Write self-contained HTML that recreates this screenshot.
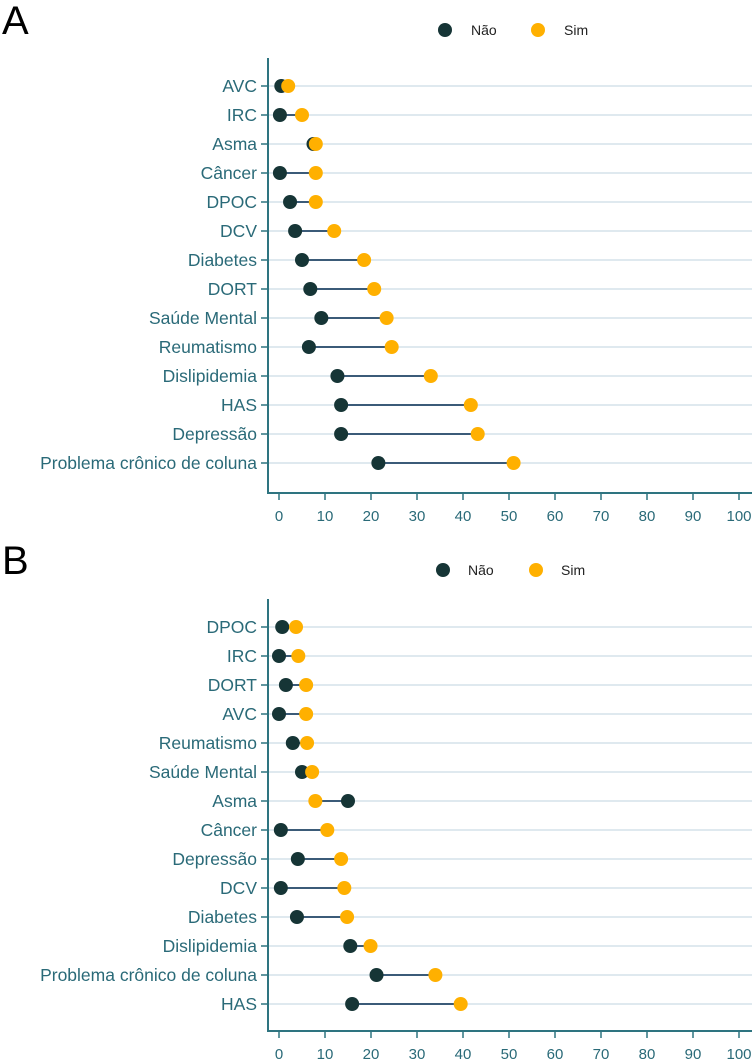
<!DOCTYPE html>
<html><head><meta charset="utf-8"><style>
body{margin:0;background:#fff;}
svg{display:block;font-family:"Liberation Sans",sans-serif;}
</style></head><body>
<svg id="chart" width="752" height="1060" viewBox="0 0 752 1060"></svg>
<script>
const catsA=["AVC","IRC","Asma","Câncer","DPOC","DCV","Diabetes","DORT","Saúde Mental","Reumatismo","Dislipidemia","HAS","Depressão","Problema crônico de coluna"];
const naoA=[0.5,0.2,7.5,0.2,2.4,3.5,5,6.8,9.2,6.5,12.7,13.5,13.5,21.6];
const simA=[2,5,8,8,8,12,18.5,20.7,23.4,24.5,33,41.7,43.2,51];
const catsB=["DPOC","IRC","DORT","AVC","Reumatismo","Saúde Mental","Asma","Câncer","Depressão","DCV","Diabetes","Dislipidemia","Problema crônico de coluna","HAS"];
const naoB=[0.7,0,1.5,0,3,5,15,0.4,4.1,0.4,3.9,15.5,21.2,15.9];
const simB=[3.7,4.2,5.9,5.9,6.1,7.2,7.9,10.5,13.5,14.2,14.8,19.9,34,39.5];
const ticks=[0,10,20,30,40,50,60,70,80,90,100];

const svg=document.getElementById('chart');
const NS="http://www.w3.org/2000/svg";
function mk(tag,attrs,parent){const e=document.createElementNS(NS,tag);for(const k in attrs)e.setAttribute(k,attrs[k]);(parent||svg).appendChild(e);return e;}
const x=v=>279+v*4.6;

function panel(id,letter,letterY,legendY,axisTop,firstRow,baseline,cats,nao,sim){
  const g=mk('g',{});
  
  
  const L=mk('text',{x:2,y:letterY,'font-size':40,fill:'#000'},g);L.textContent=letter;
  
  
  const lg=mk('g',{},g);
  
  
  mk('circle',{cx:445-(id==='b'?2:0),cy:legendY,r:7,fill:'#163536'},lg);
  const t1=mk('text',{x:471-(id==='b'?3:0),y:legendY+5,'font-size':14,fill:'#222'},lg);t1.textContent="Não";
  mk('circle',{cx:538-(id==='b'?2:0),cy:legendY,r:7,fill:'#ffb000'},lg);
  const t2=mk('text',{x:564-(id==='b'?3:0),y:legendY+5,'font-size':14,fill:'#222'},lg);t2.textContent="Sim";
  cats.forEach((c,i)=>{
    const y=firstRow+i*29;
    const gl=mk('line',{x1:268,x2:752,y1:y,y2:y,stroke:'#dfe9ef','stroke-width':2},g);
    
    
    mk('line',{x1:261,x2:268,y1:y,y2:y,stroke:'#2e7480','stroke-width':1.5},g);
    const lb=mk('text',{x:257,y:y+6,'font-size':17.5,'text-anchor':'end',fill:'#2a6a78'},g);lb.textContent=c;
    
    
  });
  cats.forEach((c,i)=>{
    const y=firstRow+i*29;
    const ln=mk('line',{x1:x(nao[i]),x2:x(sim[i]),y1:y,y2:y,stroke:'#3b5b78','stroke-width':2},g);
    
    
    const a=mk('circle',{cx:x(nao[i]),cy:y,r:7,fill:'#163536'},g);
    
    
    const b=mk('circle',{cx:x(sim[i]),cy:y,r:7,fill:'#ffb000'},g);
    
    
  });
  mk('line',{x1:268,x2:268,y1:axisTop,y2:baseline+1,stroke:'#2e7480','stroke-width':2},g);
  const xa=mk('line',{x1:267,x2:752,y1:baseline,y2:baseline,stroke:'#2e7480','stroke-width':2},g);
  
  
  ticks.forEach(t=>{
    mk('line',{x1:x(t),x2:x(t),y1:baseline,y2:baseline+7,stroke:'#2e7480','stroke-width':1.5},g);
    const tl=mk('text',{x:x(t),y:baseline+28,'font-size':15,'text-anchor':'middle',fill:'#2a6a78'},g);tl.textContent=t;
    
    
  });
}
panel('a','A',34,30,58,86,493,catsA,naoA,simA);
panel('b','B',574,570,599,627,1031,catsB,naoB,simB);
</script>
</body></html>
